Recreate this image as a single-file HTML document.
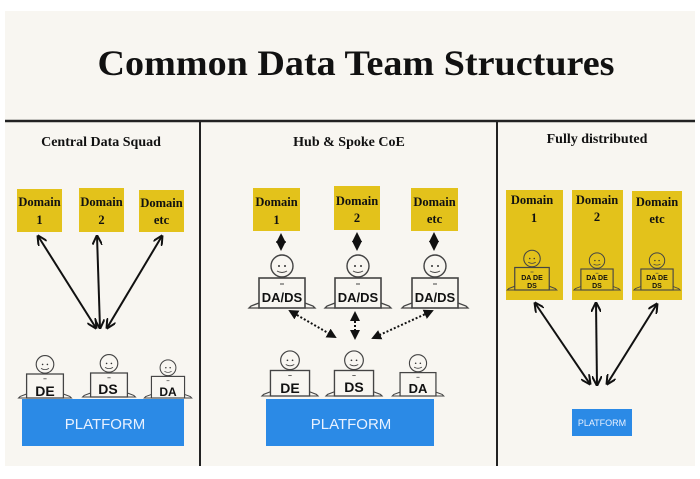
<!DOCTYPE html>
<html><head><meta charset="utf-8"><style>
html,body{margin:0;padding:0;background:#fff;}
svg{display:block;}
.t{font-family:"Liberation Serif",serif;font-weight:bold;fill:#111;}
.s{font-family:"Liberation Sans",sans-serif;font-weight:bold;fill:#111;}
</style></head><body>
<svg width="700" height="479" viewBox="0 0 700 479" xmlns="http://www.w3.org/2000/svg">
<defs>
<marker id="ah" viewBox="0 0 10 10" refX="8" refY="5" markerWidth="5" markerHeight="5" orient="auto-start-reverse"><path d="M0,0 L10,5 L0,10 Z" fill="#111"/></marker>
<marker id="ao" viewBox="0 0 10 10" refX="9" refY="5" markerWidth="5" markerHeight="5" orient="auto-start-reverse"><path d="M0,0 L10,5 L0,10" fill="none" stroke="#111" stroke-width="2"/></marker>
<g id="fig">
<circle cx="0" cy="-42" r="11" fill="none" stroke="#444" stroke-width="1.4"/>
<circle cx="-3" cy="-42" r="1" fill="#333"/><circle cx="3" cy="-42" r="1" fill="#333"/>
<path d="M-5,-37 Q0,-34 5,-37" fill="none" stroke="#444" stroke-width="1"/>
<rect x="-23" y="-30" width="46" height="30" fill="none" stroke="#444" stroke-width="1.6"/>
<path d="M-23,-5 L-31,-2 L-33,0 L-23,0 M23,-5 L31,-2 L33,0 L23,0" fill="none" stroke="#444" stroke-width="1.3"/>
<line x1="-2" y1="-24" x2="2" y2="-24" stroke="#444" stroke-width="1"/>
</g>
</defs>
<rect x="5" y="11" width="690" height="455" fill="#f8f6f1"/>
<text x="356" y="75" text-anchor="middle" class="t" font-size="36" textLength="517" lengthAdjust="spacingAndGlyphs">Common Data Team Structures</text>
<line x1="5" y1="121" x2="695" y2="121" stroke="#222" stroke-width="2.5"/>
<line x1="200" y1="121" x2="200" y2="466" stroke="#222" stroke-width="2"/>
<line x1="497" y1="121" x2="497" y2="466" stroke="#222" stroke-width="2"/>

<!-- Panel 1 -->
<text x="101" y="146" text-anchor="middle" class="t" font-size="14">Central Data Squad</text>
<rect x="17" y="189" width="45" height="43" fill="#e3c21b"/>
<rect x="79" y="188" width="45" height="44" fill="#e3c21b"/>
<rect x="139" y="190" width="45" height="42" fill="#e3c21b"/>
<g class="t" font-size="12.5" text-anchor="middle">
<text x="39.5" y="206">Domain</text><text x="39.5" y="224">1</text>
<text x="101.5" y="206">Domain</text><text x="101.5" y="224">2</text>
<text x="161.5" y="207">Domain</text><text x="161.5" y="224">etc</text>
</g>
<g stroke="#111" stroke-width="2" marker-start="url(#ao)" marker-end="url(#ao)">
<line x1="38" y1="236" x2="96" y2="328"/>
<line x1="97" y1="236" x2="100" y2="328"/>
<line x1="162" y1="236" x2="107" y2="328"/>
</g>
<use href="#fig" transform="translate(45,398) scale(0.8)"/>
<use href="#fig" transform="translate(109,397) scale(0.8)"/>
<use href="#fig" transform="translate(168,398) scale(0.72)"/>
<g class="s" font-size="14" text-anchor="middle">
<text x="45" y="396">DE</text><text x="108" y="394">DS</text><text x="168" y="396" font-size="12">DA</text>
</g>
<rect x="22" y="399" width="162" height="47" fill="#2b8ae6"/>
<text x="105" y="429" text-anchor="middle" font-family="Liberation Sans,sans-serif" font-size="15" fill="#e8f1ff">PLATFORM</text>

<!-- Panel 2 -->
<text x="349" y="146" text-anchor="middle" class="t" font-size="14">Hub &amp; Spoke CoE</text>
<rect x="253" y="188" width="47" height="43" fill="#e3c21b"/>
<rect x="334" y="186" width="46" height="44" fill="#e3c21b"/>
<rect x="411" y="188" width="47" height="43" fill="#e3c21b"/>
<g class="t" font-size="12.5" text-anchor="middle">
<text x="276.5" y="206">Domain</text><text x="276.5" y="224">1</text>
<text x="357" y="205">Domain</text><text x="357" y="222">2</text>
<text x="434.5" y="206">Domain</text><text x="434.5" y="223">etc</text>
</g>
<g stroke="#111" stroke-width="2" marker-start="url(#ah)" marker-end="url(#ah)">
<line x1="281" y1="235" x2="281" y2="249"/>
<line x1="357" y1="234" x2="357" y2="249"/>
<line x1="434" y1="234" x2="434" y2="249"/>
</g>
<g stroke="#111" stroke-width="2" stroke-dasharray="2,2" marker-start="url(#ah)" marker-end="url(#ah)">
<line x1="290" y1="311" x2="335" y2="337"/>
<line x1="355" y1="313" x2="355" y2="338"/>
<line x1="432" y1="311" x2="373" y2="338"/>
</g>
<use href="#fig" transform="translate(282,308)"/>
<use href="#fig" transform="translate(358,308)"/>
<use href="#fig" transform="translate(435,308)"/>
<g class="s" font-size="13" text-anchor="middle">
<text x="282" y="302">DA/DS</text><text x="358" y="302">DA/DS</text><text x="435" y="302">DA/DS</text>
</g>
<use href="#fig" transform="translate(290,396) scale(0.85)"/>
<use href="#fig" transform="translate(354,396) scale(0.85)"/>
<use href="#fig" transform="translate(418,396) scale(0.78)"/>
<g class="s" font-size="14" text-anchor="middle">
<text x="290" y="393">DE</text><text x="354" y="392">DS</text><text x="418" y="393" font-size="13">DA</text>
</g>
<rect x="266" y="399" width="168" height="47" fill="#2b8ae6"/>
<text x="351" y="429" text-anchor="middle" font-family="Liberation Sans,sans-serif" font-size="15" fill="#e8f1ff">PLATFORM</text>

<!-- Panel 3 -->
<text x="597" y="143" text-anchor="middle" class="t" font-size="14">Fully distributed</text>
<rect x="506" y="190" width="57" height="110" fill="#e3c21b"/>
<rect x="572" y="190" width="51" height="110" fill="#e3c21b"/>
<rect x="632" y="191" width="50" height="109" fill="#e3c21b"/>
<g class="t" font-size="12.5" text-anchor="middle">
<text x="532" y="204">Domain</text><text x="534" y="222">1</text>
<text x="597" y="204">Domain</text><text x="597" y="221">2</text>
<text x="657" y="206">Domain</text><text x="657" y="223">etc</text>
</g>
<use href="#fig" transform="translate(532,290) scale(0.75)"/>
<use href="#fig" transform="translate(597,290) scale(0.7)"/>
<use href="#fig" transform="translate(657,290) scale(0.7)"/>
<g class="s" font-size="7" text-anchor="middle">
<text x="532" y="280">DA    DE</text><text x="532" y="288">DS</text>
<text x="597" y="280">DA    DE</text><text x="597" y="288">DS</text>
<text x="657" y="280">DA    DE</text><text x="657" y="288">DS</text>
</g>
<g stroke="#111" stroke-width="2" marker-start="url(#ao)" marker-end="url(#ao)">
<line x1="535" y1="303" x2="590" y2="384"/>
<line x1="596" y1="303" x2="597" y2="385"/>
<line x1="657" y1="304" x2="607" y2="384"/>
</g>
<rect x="572" y="409" width="60" height="27" fill="#2b8ae6"/>
<text x="602" y="426" text-anchor="middle" font-family="Liberation Sans,sans-serif" font-size="9" fill="#e8f1ff">PLATFORM</text>
</svg>
</body></html>
